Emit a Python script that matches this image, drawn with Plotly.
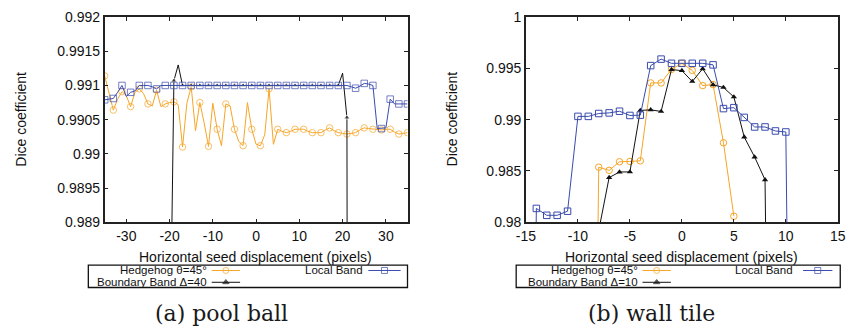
import plotly.graph_objects as go

W, H = 860, 336

# ---------------- data: (a) pool ball ----------------
pb_x = list(range(-35, 36))
pb_hedgehog = [
    0.99114, 0.99088, 0.99064, 0.99080, 0.99091, 0.99085, 0.99069, 0.99090, 0.99095, 0.99088,
    0.99073, 0.99070, 0.99093, 0.99069, 0.99073, 0.99075, 0.99076, 0.99072, 0.99010, 0.99074,
    0.99098, 0.99034, 0.99075, 0.99045, 0.99011, 0.99074, 0.99036, 0.99012, 0.99073, 0.99070,
    0.99036, 0.99018, 0.99012, 0.99075, 0.99036, 0.99014, 0.99012, 0.99028, 0.99095, 0.99014,
    0.99036, 0.99033, 0.99031, 0.99033, 0.99036, 0.99036, 0.99036, 0.99033, 0.99031, 0.99031,
    0.99031, 0.99035, 0.99038, 0.99034, 0.99031, 0.99030, 0.99029, 0.99030, 0.99031, 0.99035,
    0.99038, 0.99037, 0.99036, 0.99035, 0.99035, 0.99036, 0.99036, 0.99032, 0.99029, 0.99030,
    0.99031]
pb_local = [
    0.99079, 0.99080, 0.99081, 0.99090, 0.99100, 0.99084, 0.99090, 0.99092, 0.99100, 0.99100,
    0.99100, 0.99098, 0.99095, 0.99100, 0.99100, 0.99100, 0.99100, 0.99100, 0.99100, 0.99100,
    0.99100, 0.99100, 0.99100, 0.99100, 0.99100, 0.99100, 0.99100, 0.99100, 0.99100, 0.99100,
    0.99100, 0.99100, 0.99100, 0.99100, 0.99100, 0.99100, 0.99100, 0.99100, 0.99100, 0.99100,
    0.99100, 0.99100, 0.99100, 0.99100, 0.99100, 0.99100, 0.99100, 0.99100, 0.99100, 0.99100,
    0.99100, 0.99100, 0.99100, 0.99100, 0.99100, 0.99100, 0.99100, 0.99098, 0.99096, 0.99099,
    0.99103, 0.99102, 0.99100, 0.99037, 0.99037, 0.99038, 0.99080, 0.99073, 0.99073, 0.99073,
    0.99073]
pb_bx = list(range(-20, 23))
pb_boundary = [
    0.98650, 0.99107, 0.99130, 0.99100, 0.99100, 0.99100, 0.99100, 0.99100, 0.99100, 0.99100,
    0.99100, 0.99100, 0.99100, 0.99100, 0.99100, 0.99100, 0.99100, 0.99100, 0.99100, 0.99100,
    0.99100, 0.99100, 0.99100, 0.99100, 0.99100, 0.99100, 0.99100, 0.99100, 0.99100, 0.99100,
    0.99100, 0.99100, 0.99100, 0.99100, 0.99100, 0.99100, 0.99100, 0.99100, 0.99100, 0.99100,
    0.99118, 0.99053, 0.95000]

# ---------------- data: (b) wall tile ----------------
wt_lx = list(range(-15, 12))
wt_local = [
    0.90000, 0.98135, 0.98068, 0.98068, 0.98108, 0.99032, 0.99032, 0.99060, 0.99066, 0.99082,
    0.99041, 0.99044, 0.99527, 0.99590, 0.99549, 0.99549, 0.99549, 0.99549, 0.99534, 0.99108,
    0.99117, 0.99022, 0.98929, 0.98929, 0.98890, 0.98880, 0.90000]
wt_hx = list(range(-9, 6))
wt_hedgehog = [
    0.90000, 0.98537, 0.98506, 0.98590, 0.98593, 0.98599, 0.99358, 0.99358, 0.99490, 0.99549,
    0.99480, 0.99332, 0.99342, 0.98775, 0.98059]
wt_bx = list(range(-8, 10))
wt_boundary = [
    0.97920, 0.98436, 0.98490, 0.98491, 0.99090, 0.99096, 0.99080, 0.99488, 0.99478, 0.99372,
    0.99496, 0.99340, 0.99314, 0.99221, 0.98830, 0.98636, 0.98414, 0.90000]

pb_xticks = [-30, -20, -10, 0, 10, 20, 30]
pb_yticks = [0.989, 0.9895, 0.99, 0.9905, 0.991, 0.9915, 0.992]
pb_yticktext = ["0.989", "0.9895", "0.99", "0.9905", "0.991", "0.9915", "0.992"]
wt_xticks = [-15, -10, -5, 0, 5, 10, 15]
wt_yticks = [0.98, 0.985, 0.99, 0.995, 1.0]
wt_yticktext = ["0.98", "0.985", "0.99", "0.995", "1"]

names_a = ["Hedgehog θ=45°", "Local Band", "Boundary Band Δ=40"]
names_b = ["Hedgehog θ=45°", "Local Band", "Boundary Band Δ=10"]
captions = ["(a) pool ball", "(b) wall tile"]
xtitle = "Horizontal seed displacement (pixels)"
ytitle = "Dice coefficient"

ORANGE = "#f6a526"
BLUE = "#3a4bad"
BLACK = "#111111"
FONT = "Liberation Sans, Arial, sans-serif"

def px(x):
    return x / W

def py(y):
    return 1 - y / H

fig = go.Figure()

def odd_sizes(xs, s):
    return [s if (v % 2) else 0 for v in xs]

MS = 6.5
TS = 5.5
# pool ball traces (markers every second point)
fig.add_trace(go.Scatter(x=pb_x, y=pb_hedgehog, mode="lines+markers", xaxis="x", yaxis="y",
                         line=dict(color=ORANGE, width=1),
                         marker=dict(symbol="circle-open", size=odd_sizes(pb_x, MS), color=ORANGE,
                                     line=dict(width=1, color=ORANGE))))
fig.add_trace(go.Scatter(x=pb_bx, y=pb_boundary, mode="lines+markers", xaxis="x", yaxis="y",
                         line=dict(color=BLACK, width=1),
                         marker=dict(symbol="triangle-up", size=odd_sizes(pb_bx, TS), color=BLACK)))
fig.add_trace(go.Scatter(x=pb_x, y=pb_local, mode="lines+markers", xaxis="x", yaxis="y",
                         line=dict(color=BLUE, width=1),
                         marker=dict(symbol="square-open", size=odd_sizes(pb_x, MS), color=BLUE,
                                     line=dict(width=1, color=BLUE))))
# wall tile traces
fig.add_trace(go.Scatter(x=wt_hx, y=wt_hedgehog, mode="lines+markers", xaxis="x2", yaxis="y2",
                         line=dict(color=ORANGE, width=1),
                         marker=dict(symbol="circle-open", size=MS, color=ORANGE,
                                     line=dict(width=1, color=ORANGE))))
fig.add_trace(go.Scatter(x=wt_bx, y=wt_boundary, mode="lines+markers", xaxis="x2", yaxis="y2",
                         line=dict(color=BLACK, width=1),
                         marker=dict(symbol="triangle-up", size=TS, color=BLACK)))
fig.add_trace(go.Scatter(x=wt_lx, y=wt_local, mode="lines+markers", xaxis="x2", yaxis="y2",
                         line=dict(color=BLUE, width=1),
                         marker=dict(symbol="square-open", size=MS, color=BLUE,
                                     line=dict(width=1, color=BLUE))))

# ---------------- legend samples (pixel overlay axis) ----------------
legend_specs = [
    # (text, right end of text, row y, sample x0, sample x1, color, symbol)
    (names_a[0], 203, 275.6, 206, 235, ORANGE, "circle-open"),
    (names_a[1], 363, 275.6, 366, 399, BLUE, "square-open"),
    (names_a[2], 203, 288.0, 206, 235, BLACK, "triangle-up"),
    (names_b[0], 643, 275.6, 646, 675, ORANGE, "circle-open"),
    (names_b[1], 802, 275.6, 810, 840, BLUE, "square-open"),
    (names_b[2], 643, 288.0, 646, 675, BLACK, "triangle-up"),
]
annotations = []
for text, xr, yy, x0, x1, col, sym in legend_specs:
    fig.add_trace(go.Scatter(x=[x0, (x0 + x1) / 2, x1], y=[yy, yy, yy], mode="lines+markers",
                             xaxis="x3", yaxis="y3", line=dict(color=col, width=1),
                             marker=dict(symbol=sym, size=[0, TS if sym == "triangle-up" else 6, 0],
                                         color=col, line=dict(width=1, color=col))))
    annotations.append(dict(text=text, x=px(xr), y=py(yy), xref="paper", yref="paper",
                            xanchor="right", yanchor="middle", showarrow=False,
                            font=dict(family=FONT, size=11.5, color="#111")))

# titles
for cx, cy in [(11.5, 117), (451.5, 117)]:
    annotations.append(dict(text=ytitle, x=px(cx), y=py(cy), xref="paper", yref="paper",
                            xanchor="center", yanchor="middle", textangle=-90, showarrow=False,
                            font=dict(family=FONT, size=14, color="#111")))
for cx in [251, 686]:
    annotations.append(dict(text=xtitle, x=px(cx), y=py(261.7), xref="paper", yref="paper",
                            xanchor="center", yanchor="middle", showarrow=False,
                            font=dict(family=FONT, size=14, color="#111")))
for cap, cx in zip(captions, [216.5, 655]):
    annotations.append(dict(text=cap, x=px(cx), y=py(320.5), xref="paper", yref="paper",
                            xanchor="center", yanchor="middle", showarrow=False,
                            font=dict(family="DejaVu Serif, serif", size=22, color="#1a1a1a")))

shapes = [
    dict(type="rect", xref="paper", yref="paper", x0=px(80), x1=px(406), y0=py(270), y1=py(293.5),
         line=dict(color="#111", width=1.3)),
    dict(type="rect", xref="paper", yref="paper", x0=px(517), x1=px(848), y0=py(270), y1=py(293.5),
         line=dict(color="#111", width=1.3)),
]

ydom = [py(225), py(9.5)]
axis_common = dict(showgrid=False, zeroline=False, showline=True, linecolor="#222", linewidth=1.5,
                   mirror="ticks", ticks="inside", ticklen=4, tickwidth=1, tickcolor="#222",
                   tickfont=dict(family=FONT, size=14, color="#111"))

fig.update_layout(
    width=W, height=H, margin=dict(l=0, r=0, t=0, b=0),
    paper_bgcolor="white", plot_bgcolor="rgba(0,0,0,0)", showlegend=False,
    xaxis=dict(domain=[px(96.7), px(406)], range=[-35, 35], anchor="y",
               tickvals=pb_xticks, ticktext=[str(v) for v in pb_xticks], **axis_common),
    yaxis=dict(domain=ydom, range=[0.989, 0.992], anchor="x",
               tickvals=pb_yticks, ticktext=pb_yticktext, **axis_common),
    xaxis2=dict(domain=[px(527), px(845.5)], range=[-15, 15], anchor="y2",
                tickvals=wt_xticks, ticktext=[str(v) for v in wt_xticks], **axis_common),
    yaxis2=dict(domain=ydom, range=[0.98, 1.0], anchor="x2",
                tickvals=wt_yticks, ticktext=wt_yticktext, **axis_common),
    xaxis3=dict(domain=[0, 1], range=[0, W], anchor="y3", visible=False, fixedrange=True),
    yaxis3=dict(domain=[0, 1], range=[H, 0], anchor="x3", visible=False, fixedrange=True),
    annotations=annotations, shapes=shapes,
)

fig.write_html("out.html")
